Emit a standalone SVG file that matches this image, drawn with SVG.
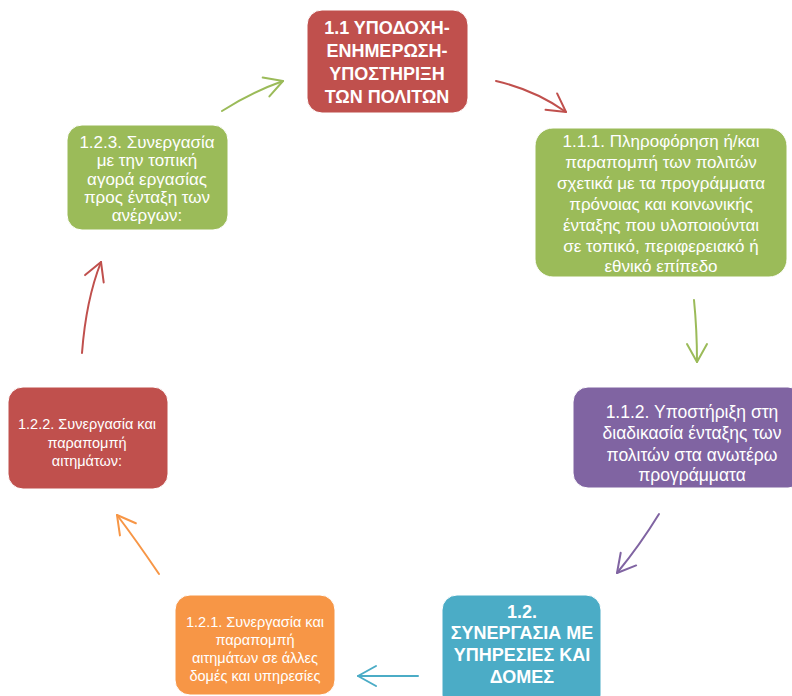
<svg xmlns="http://www.w3.org/2000/svg" width="792" height="696" viewBox="0 0 792 696">
<style>
.box{stroke:#ffffff;stroke-width:1}
.t{font-family:"Liberation Sans",Arial,sans-serif;fill:#ffffff;text-anchor:middle}
.b{font-weight:bold;font-size:18px}
.m{font-size:17px}
.p{font-size:17.5px}
.s{font-size:14.5px}
.c{fill:none;stroke-width:2;stroke-linecap:round}
</style>
<defs>
<marker id="aRed" markerUnits="userSpaceOnUse" viewBox="-21 -12 23 24" refX="0" refY="0" markerWidth="23" markerHeight="24" orient="auto"><path d="M-18,-10 L0,0 L-18,10" fill="none" stroke="#C0504D" stroke-width="2" stroke-linecap="round" stroke-linejoin="round"/></marker>
<marker id="aGreen" markerUnits="userSpaceOnUse" viewBox="-21 -12 23 24" refX="0" refY="0" markerWidth="23" markerHeight="24" orient="auto"><path d="M-18,-10 L0,0 L-18,10" fill="none" stroke="#9BBB59" stroke-width="2" stroke-linecap="round" stroke-linejoin="round"/></marker>
<marker id="aPurple" markerUnits="userSpaceOnUse" viewBox="-21 -12 23 24" refX="0" refY="0" markerWidth="23" markerHeight="24" orient="auto"><path d="M-18,-10 L0,0 L-18,10" fill="none" stroke="#8064A2" stroke-width="2" stroke-linecap="round" stroke-linejoin="round"/></marker>
<marker id="aTeal" markerUnits="userSpaceOnUse" viewBox="-21 -12 23 24" refX="0" refY="0" markerWidth="23" markerHeight="24" orient="auto"><path d="M-18,-10 L0,0 L-18,10" fill="none" stroke="#4BACC6" stroke-width="2" stroke-linecap="round" stroke-linejoin="round"/></marker>
<marker id="aOrange" markerUnits="userSpaceOnUse" viewBox="-21 -12 23 24" refX="0" refY="0" markerWidth="23" markerHeight="24" orient="auto"><path d="M-18,-10 L0,0 L-18,10" fill="none" stroke="#F79646" stroke-width="2" stroke-linecap="round" stroke-linejoin="round"/></marker>
</defs>
<rect width="792" height="696" fill="#ffffff"/>

<g id="connectors">
<path class="c" stroke="#C0504D" d="M496,81 Q535,90 566,112" marker-end="url(#aRed)"/>
<path class="c" stroke="#9BBB59" d="M694,300 Q697,330 697,362" marker-end="url(#aGreen)"/>
<path class="c" stroke="#8064A2" d="M659,514 Q640,545 617,573" marker-end="url(#aPurple)"/>
<path class="c" stroke="#4BACC6" d="M418,676 L358,676" marker-end="url(#aTeal)"/>
<path class="c" stroke="#F79646" d="M159,574 Q136,540 117,515" marker-end="url(#aOrange)"/>
<path class="c" stroke="#C0504D" d="M82,353 Q86,300 101,262" marker-end="url(#aRed)"/>
<path class="c" stroke="#9BBB59" d="M222,111 Q252,92 283,81" marker-end="url(#aGreen)"/>
</g>

<g id="n11">
<rect class="box" x="307" y="10" width="161" height="103" rx="15" fill="#C0504D"/>
<text class="t b" x="387" y="34">1.1 ΥΠΟΔΟΧΗ-</text>
<text class="t b" x="387" y="57">ΕΝΗΜΕΡΩΣΗ-</text>
<text class="t b" x="387" y="80">ΥΠΟΣΤΗΡΙΞΗ</text>
<text class="t b" x="387" y="103">ΤΩΝ ΠΟΛΙΤΩΝ</text>
</g>

<g id="n111">
<rect class="box" x="535" y="128" width="252" height="149" rx="18" fill="#9BBB59"/>
<text class="t m" x="661" y="147">1.1.1. Πληροφόρηση ή/και</text>
<text class="t m" x="661" y="168">παραπομπή των πολιτών</text>
<text class="t m" x="661" y="189">σχετικά με τα προγράμματα</text>
<text class="t m" x="661" y="210">πρόνοιας και κοινωνικής</text>
<text class="t m" x="661" y="231">ένταξης που υλοποιούνται</text>
<text class="t m" x="661" y="252">σε τοπικό, περιφερειακό ή</text>
<text class="t m" x="661" y="272">εθνικό επίπεδο</text>
</g>

<g id="n112">
<rect class="box" x="573" y="387" width="230" height="101" rx="15" fill="#8064A2"/>
<text class="t p" x="692" y="418">1.1.2. Υποστήριξη στη</text>
<text class="t p" x="692" y="439">διαδικασία ένταξης των</text>
<text class="t p" x="692" y="461">πολιτών στα ανωτέρω</text>
<text class="t p" x="692" y="481">προγράμματα</text>
</g>

<g id="n12">
<rect class="box" x="442" y="595" width="159" height="115" rx="15" fill="#4BACC6"/>
<text class="t b" x="522" y="618">1.2.</text>
<text class="t b" x="522" y="639">ΣΥΝΕΡΓΑΣΙΑ ΜΕ</text>
<text class="t b" x="522" y="661">ΥΠΗΡΕΣΙΕΣ ΚΑΙ</text>
<text class="t b" x="522" y="683">ΔΟΜΕΣ</text>
</g>

<g id="n121">
<rect class="box" x="175" y="595" width="160" height="100" rx="15" fill="#F79646"/>
<text class="t s" x="255" y="627">1.2.1. Συνεργασία και</text>
<text class="t s" x="255" y="645">παραπομπή</text>
<text class="t s" x="255" y="663">αιτημάτων σε άλλες</text>
<text class="t s" x="255" y="681">δομές και υπηρεσίες</text>
</g>

<g id="n122">
<rect class="box" x="8" y="387" width="160" height="102" rx="15" fill="#C0504D"/>
<text class="t s" x="87" y="429">1.2.2. Συνεργασία και</text>
<text class="t s" x="87" y="448">παραπομπή</text>
<text class="t s" x="87" y="466">αιτημάτων:</text>
</g>

<g id="n123">
<rect class="box" x="67" y="125" width="161" height="105" rx="15" fill="#9BBB59"/>
<text class="t m" x="147" y="148">1.2.3. Συνεργασία</text>
<text class="t m" x="147" y="166">με την τοπική</text>
<text class="t m" x="147" y="185">αγορά εργασίας</text>
<text class="t m" x="147" y="203">προς ένταξη των</text>
<text class="t m" x="147" y="221">ανέργων:</text>
</g>
</svg>
